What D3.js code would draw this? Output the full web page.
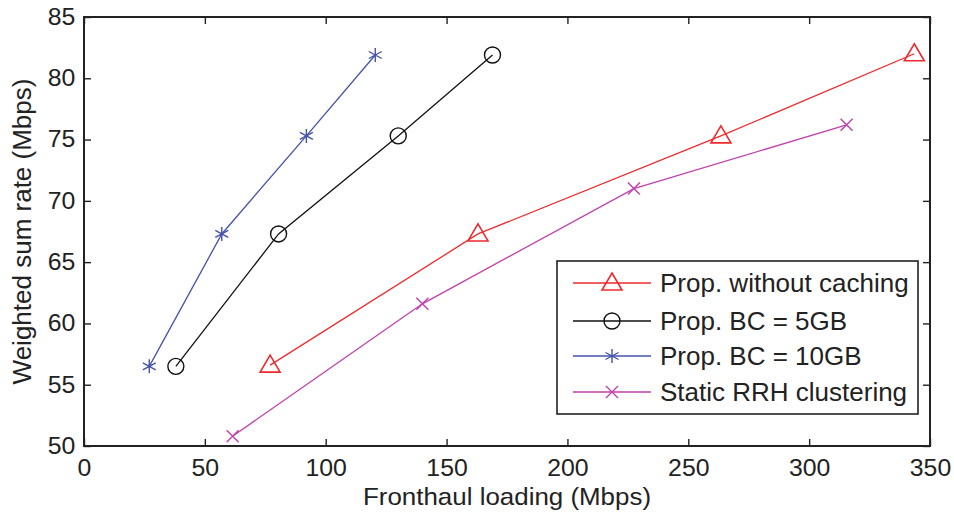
<!DOCTYPE html>
<html>
<head>
<meta charset="utf-8">
<script src="https://cdn.jsdelivr.net/npm/d3@7"></script>
<style>
  body { margin:0; background:#fff; }
  text { font-family: "Liberation Sans", Arial, sans-serif; fill:#222; }
</style>
</head>
<body>
<div id="chart"></div>
<script>
// data
var seriesNames = ["Prop. without caching", "Prop. BC = 5GB", "Prop. BC = 10GB", "Static RRH clustering"];
var noCacheX = [77, 163, 263.5, 343.5];
var noCacheY = [56.6, 67.3, 75.3, 82.0];
var bc5X = [38, 80.5, 130, 169];
var bc5Y = [56.5, 67.3, 75.3, 81.9];
var bc10X = [27, 57, 92, 120.5];
var bc10Y = [56.5, 67.3, 75.3, 81.9];
var staticX = [61.5, 140, 227.5, 315.5];
var staticY = [50.8, 61.6, 71.0, 76.2];
var xTicks = [0, 50, 100, 150, 200, 250, 300, 350];
var yTicks = [50, 55, 60, 65, 70, 75, 80, 85];

var colors = ["#ee2a2e", "#111111", "#4452aa", "#c040ac"];
var markers = ["triangle", "circle", "star", "cross"];

var width = 954, height = 515;
var margin = {top:17, right:24, bottom:69, left:84};
var innerW = width - margin.left - margin.right,
    innerH = height - margin.top - margin.bottom;

var x = d3.scaleLinear().domain([0, 350]).range([0, innerW]);
var y = d3.scaleLinear().domain([50, 85]).range([innerH, 0]);

var svg = d3.select("#chart").append("svg")
  .attr("width", width)
  .attr("height", height);

var g = svg.append("g")
  .attr("transform", "translate(" + margin.left + "," + margin.top + ")");

//axes, ticks pointing inward, mirrored on top/right
var tickLen = 7;
function styleAxis(a){
  a.select(".domain").remove();
  a.selectAll("text").style("font-size","23px").attr("fill","#222")
    .attr("transform","scale(1.08,1)");
  a.selectAll("line").attr("stroke","#222").attr("stroke-width",1.4);
}
g.append("g").attr("transform", "translate(0," + innerH + ")")
  .call(d3.axisBottom(x).tickValues(xTicks).tickSize(-tickLen).tickPadding(14).tickFormat(d3.format("d")))
  .call(styleAxis);
g.append("g")
  .call(d3.axisTop(x).tickValues(xTicks).tickSize(-tickLen).tickFormat(""))
  .call(styleAxis);
g.append("g")
  .call(d3.axisLeft(y).tickValues(yTicks).tickSize(-tickLen).tickPadding(8).tickFormat(d3.format("d")))
  .call(styleAxis);
g.append("g").attr("transform", "translate(" + innerW + ",0)")
  .call(d3.axisRight(y).tickValues(yTicks).tickSize(-tickLen).tickFormat(""))
  .call(styleAxis);

g.append("rect")
  .attr("width", innerW).attr("height", innerH)
  .attr("fill", "none").attr("stroke", "#222").attr("stroke-width", 2);

// axis titles
svg.append("text")
  .attr("transform", "translate(" + (margin.left + innerW/2) + ",505) scale(1.08,1)")
  .attr("text-anchor", "middle").style("font-size", "24px")
  .text("Fronthaul loading (Mbps)");
svg.append("text")
  .attr("transform", "translate(31," + (margin.top + innerH/2) + ") rotate(-90)")
  .attr("text-anchor", "middle").style("font-size", "26px")
  .text("Weighted sum rate (Mbps)");

function drawMarker(sel, type, color){
  if(type=="triangle"){
    sel.append("path").attr("d", "M0,-10 L10,7 L-10,7 Z")
      .attr("fill","none").attr("stroke",color).attr("stroke-width",1.6);
  } else if(type=="circle"){
    sel.append("circle").attr("r", 8)
      .attr("fill","none").attr("stroke",color).attr("stroke-width",1.4);
  } else if(type=="star"){
    sel.append("path").attr("d", "M0,-7 L0,7 M-6.5,-3.5 L6.5,3.5 M-6.5,3.5 L6.5,-3.5")
      .attr("fill","none").attr("stroke",color).attr("stroke-width",1.4);
  } else {
    sel.append("path").attr("d", "M-6,-6 L6,6 M-6,6 L6,-6")
      .attr("fill","none").attr("stroke",color).attr("stroke-width",1.4);
  }
}

var series = [
  {xs:noCacheX, ys:noCacheY},
  {xs:bc5X, ys:bc5Y},
  {xs:bc10X, ys:bc10Y},
  {xs:staticX, ys:staticY}
];

var line = d3.line()
  .x(function(d){ return x(d[0]); })
  .y(function(d){ return y(d[1]); });

series.forEach(function(s, i){
  var pts = s.xs.map(function(v, j){ return [v, s.ys[j]]; });
  g.append("path").datum(pts)
    .attr("d", line)
    .attr("fill","none").attr("stroke", colors[i]).attr("stroke-width", 1.3);
  pts.forEach(function(p){
    var m = g.append("g").attr("transform","translate(" + x(p[0]) + "," + y(p[1]) + ")");
    drawMarker(m, markers[i], colors[i]);
  });
});

// legend
var lg = svg.append("g").attr("transform","translate(557,261)");
lg.append("rect").attr("width", 361).attr("height", 153)
  .attr("fill","#fff").attr("stroke","#222").attr("stroke-width",1.6);
var rowY = [22, 60, 95, 131];
seriesNames.forEach(function(name, i){
  var r = lg.append("g").attr("transform","translate(0," + rowY[i] + ")");
  r.append("line").attr("x1",16).attr("x2",94).attr("stroke",colors[i]).attr("stroke-width",1.3);
  var m = r.append("g").attr("transform","translate(55,0)");
  drawMarker(m, markers[i], colors[i]);
  r.append("text").attr("x",103).attr("y",0).attr("dy","0.36em")
    .style("font-size","26px").text(name);
});
</script>
</body>
</html>
